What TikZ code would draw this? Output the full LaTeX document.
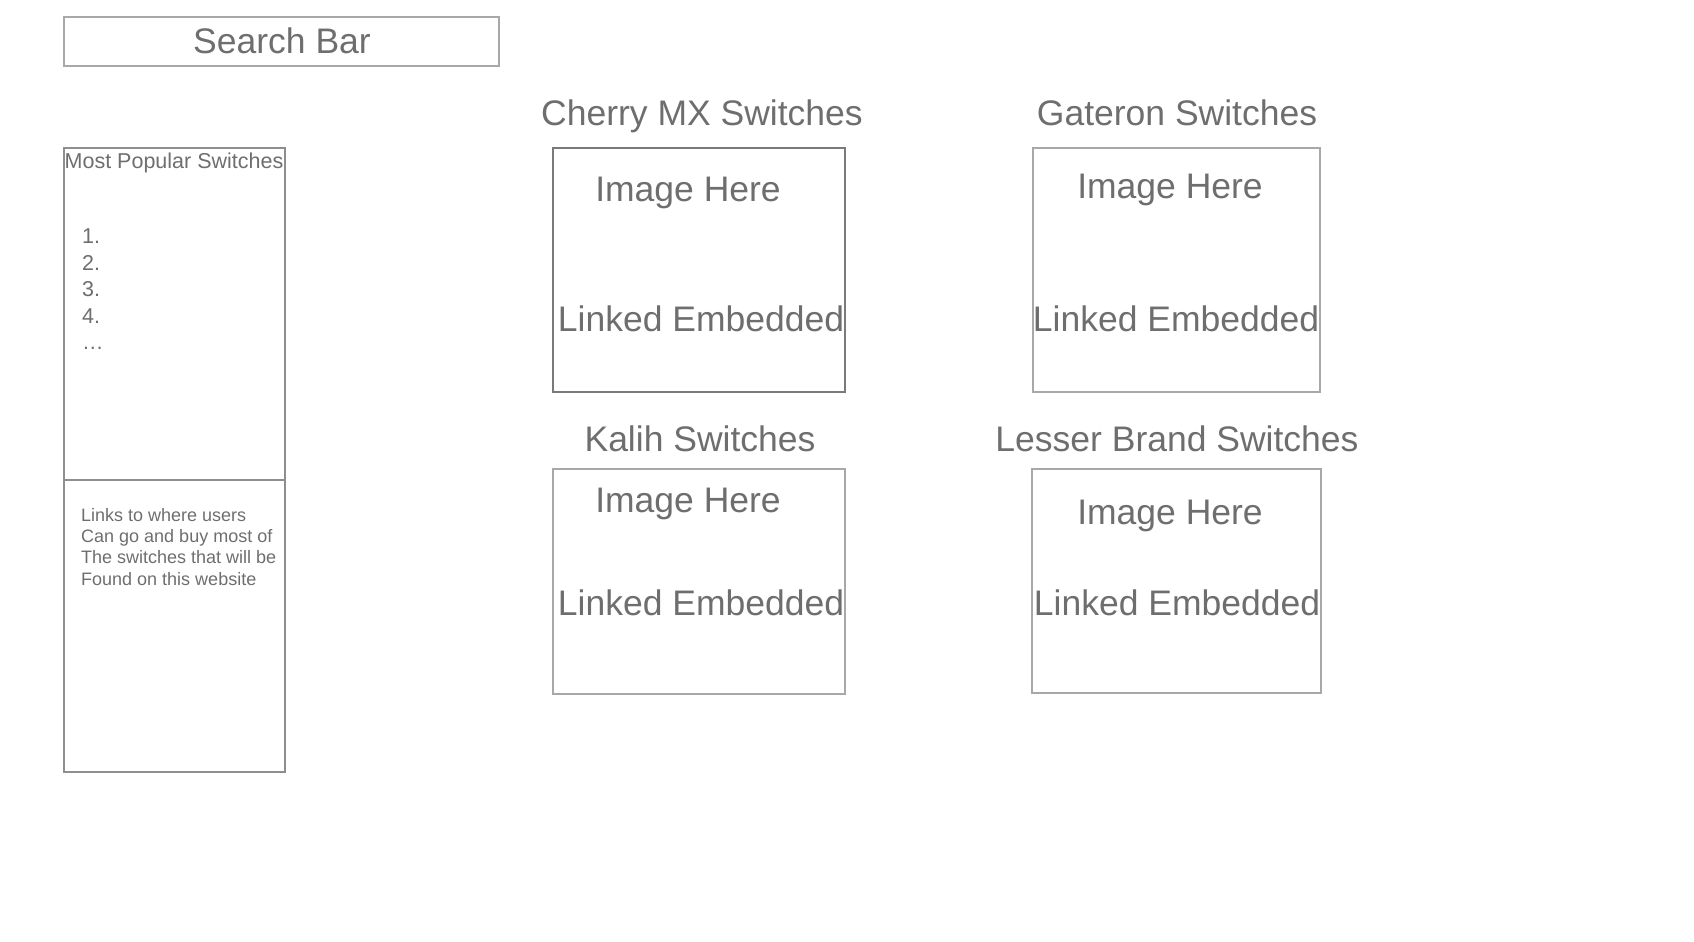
\documentclass[tikz,border=0pt]{standalone}
\usepackage{fontspec}
\setmainfont{Liberation Sans}
\definecolor{wiretext}{HTML}{6E6E6E}
\definecolor{wireline}{HTML}{A8A8A8}
\definecolor{wiredark}{HTML}{7A7A7A}
\tikzset{
    every node/.style={align=center,inner sep=0pt,text=wiretext,},
    frame/.style={draw=wireline,rectangle,line width=1.1pt,},
    darkframe/.style={frame,draw=wiredark,},
    big/.style={font=\fontsize{35.5}{42}\selectfont,anchor=base,},
    small/.style={font=\fontsize{21.5}{26.5}\selectfont,},
    tiny/.style={font=\fontsize{18}{21.3}\selectfont,},
}

\begin{document}
\begin{tikzpicture}[x=1pt,y=-1pt]
                \useasboundingbox (0,0) rectangle (1694,942);

                % search bar
                \node[frame,minimum width=435pt,minimum height=49pt] (search) at (281.5,41.5) {};
                \node[big] (search_text) at (282,54) {Search Bar};

                % left column
                \node[frame,draw=wiredark!85,minimum width=221pt,minimum height=332pt] (popular) at (174.5,314) {};
                \node[frame,draw=wiredark!85,minimum width=221pt,minimum height=292pt] (shops) at (174.5,626) {};
                \node[small,anchor=base] (popular_title) at (174,168) {Most Popular Switches};
                \node[small,align=left,anchor=north west] (popular_list) at (82,229) {1.\\2.\\3.\\4.\\\dots};
                \node[tiny,align=left,anchor=north west] (shops_text) at (81,508) {Links to where users\\Can go and buy most of\\The switches that will be\\Found on this website};

                % switch boxes
                \node[darkframe,minimum width=292pt,minimum height=244pt] (cherry) at (699,270) {};
                \node[frame,minimum width=287pt,minimum height=244pt] (gateron) at (1176.5,270) {};
                \node[frame,minimum width=292pt,minimum height=225pt] (kalih) at (699,581.5) {};
                \node[frame,minimum width=289pt,minimum height=224pt] (lesser) at (1176.5,581) {};

                \node[big] (cherry_title) at (702,125) {Cherry MX Switches};
                \node[big] (gateron_title) at (1177,125) {Gateron Switches};
                \node[big] (kalih_title) at (700,451) {Kalih Switches};
                \node[big] (lesser_title) at (1177,451) {Lesser Brand Switches};

                \node[big] (cherry_image) at (688,201) {Image Here};
                \node[big] (gateron_image) at (1170,198) {Image Here};
                \node[big] (kalih_image) at (688,512) {Image Here};
                \node[big] (lesser_image) at (1170,524) {Image Here};

                \node[big] (cherry_link) at (701,331) {Linked Embedded};
                \node[big] (gateron_link) at (1176,331) {Linked Embedded};
                \node[big] (kalih_link) at (701,615) {Linked Embedded};
                \node[big] (lesser_link) at (1177,615) {Linked Embedded};
            \end{tikzpicture}
\end{document}
